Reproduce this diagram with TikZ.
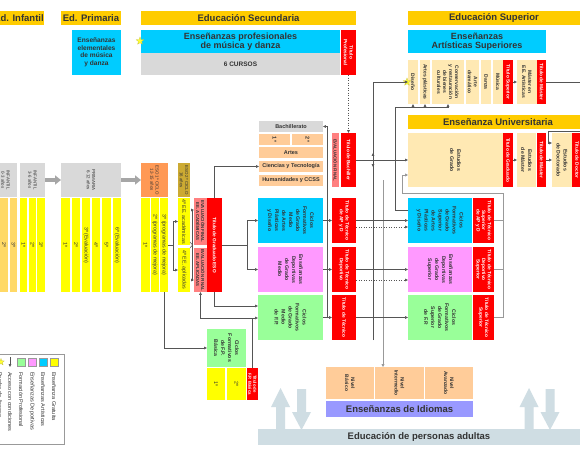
\documentclass[tikz,border=0pt]{standalone}
\usepackage{fontspec}
\setmainfont{Liberation Sans}
\usetikzlibrary{arrows.meta,shapes.geometric}
\definecolor{gold}{HTML}{FFCC00}
\definecolor{cyanb}{HTML}{00CCFF}
\definecolor{greyb}{HTML}{D9D9D9}
\definecolor{redb}{HTML}{FF0000}
\definecolor{salm}{HTML}{FF8080}
\definecolor{cream}{HTML}{FFE9B3}
\definecolor{peach}{HTML}{FFCC99}
\definecolor{yel}{HTML}{FFFF00}
\definecolor{infc}{HTML}{FFD966}
\definecolor{esoA}{HTML}{FF9955}
\definecolor{esoB}{HTML}{CCAA33}
\definecolor{pinkb}{HTML}{FF99FF}
\definecolor{greenb}{HTML}{99FF99}
\definecolor{idio}{HTML}{9999FF}
\definecolor{adult}{HTML}{CFDDE3}
\definecolor{txt}{HTML}{333333}
\definecolor{lin}{HTML}{555555}
\definecolor{glin}{HTML}{999999}
\definecolor{bigg}{HTML}{A6A6A6}
\definecolor{stary}{HTML}{FFFF33}
\newcommand{\zH}{\fontsize{9.5}{10}\selectfont\bfseries}
\newcommand{\zC}{\fontsize{9}{9.5}\selectfont\bfseries}
\newcommand{\zE}{\fontsize{6.6}{7.6}\selectfont\bfseries}
\newcommand{\zK}{\fontsize{6.5}{7}\selectfont\bfseries}
\newcommand{\zB}{\fontsize{5.5}{6}\selectfont\bfseries}
\newcommand{\zS}{\fontsize{5.2}{7}\selectfont\bfseries}
\newcommand{\zT}{\fontsize{4.8}{5.6}\selectfont\bfseries}
\newcommand{\zV}{\fontsize{4.3}{5}\selectfont\bfseries}
\newcommand{\zY}{\fontsize{5.3}{6}\selectfont}
\newcommand{\zA}{\fontsize{4.4}{5.2}\selectfont}
\newcommand{\zL}{\fontsize{5.5}{6}\selectfont}
\newcommand{\zR}{\fontsize{5}{6}\selectfont\bfseries}
\newcommand{\HB}[8]{\node[bxs,fill=#6,minimum width=#4pt,minimum height=#5pt,align=center,text=txt,#7] (#1) at ({#2+#4/2},{#3+#5/2}) {#8};}
\newcommand{\VB}[8]{\node[bxs,fill=#6,minimum width=#4pt,minimum height=#5pt] (#1) at ({#2+#4/2},{#3+#5/2}) {};\node[vt,#7] (#1-t) at (#1.center) {#8};}
\begin{document}
\begin{tikzpicture}[x=1pt,y=-1pt,
 bxs/.style={rectangle,draw=none,inner sep=0pt,outer sep=0pt},
 vt/.style={rotate=-90,align=center,inner sep=0pt,text=txt},
 ln/.style={draw=lin,line width=0.5pt},
 ar/.style={ln,-{Triangle[length=2.8pt,width=2.6pt]}},
 ard/.style={ar,dotted},
 lng/.style={draw=glin,line width=0.8pt},
 arg/.style={lng,-{Triangle[length=3pt,width=3pt]}},
 bigar/.style={draw=bigg,line width=4pt,-{Triangle[length=6pt,width=9pt]}},
 stary/.style={star,star points=5,star point ratio=2.3,fill=stary,draw=yellow!70!black,line width=0.2pt,minimum size=8pt,inner sep=0pt}]
\useasboundingbox (0,0) rectangle (580,460);
\fill[white] (0,0) rectangle (580,460);
% headers
\HB{hinf}{-6}{11}{50}{14}{gold}{font=\zH}{Ed. Infantil}
\HB{hpri}{61}{11}{60}{14}{gold}{font=\zH}{Ed. Primaria}
\HB{hsec}{141}{11}{215}{14}{gold}{font=\zH}{Educación Secundaria}
\HB{hsup}{408}{11}{172}{14}{gold}{font=\zH}{Educación Superior}
% music and arts
\HB{elem}{72}{30}{49}{45}{cyanb}{font=\zE}{Enseñanzas\\elementales\\de música\\y danza}
\HB{prof}{141}{30}{199}{23}{cyanb}{font=\zC}{Enseñanzas profesionales\\de música y danza}
\HB{cursos}{141}{53}{199}{22}{greyb}{font=\zK}{6 CURSOS}
\VB{tprof}{341}{30}{15}{45}{redb}{font=\zT,text=white}{Título\\Profesional}
\HB{eas}{408}{30}{138}{23}{cyanb}{font=\zC}{Enseñanzas\\Artísticas Superiores}
\VB{dis}{408}{60}{10}{44}{cream}{font=\zR}{Diseño}
\VB{apl}{420}{60}{10}{44}{cream}{font=\zR}{Artes plásticas}
\VB{cons}{432}{60}{32}{44}{cream}{font=\zR}{Conservación\\y restauración\\de bienes\\culturales}
\VB{adr}{466}{60}{13}{44}{cream}{font=\zR}{Arte\\dramático}
\VB{dan}{481}{60}{10}{44}{cream}{font=\zR}{Danza}
\VB{mus}{493}{60}{10}{44}{cream}{font=\zR}{Música}
\VB{tsup}{503}{60}{10}{44}{redb}{font=\zT,text=white}{Título Superior}
\VB{mea}{517}{60}{20}{44}{cream}{font=\zR}{Máster en\\EE. Artísticas}
\VB{tmea}{537}{60}{9}{44}{redb}{font=\zT,text=white}{Título de Máster}
\node[stary] (st1) at (140,41) {};
\node[stary] (st2) at (407,82) {};
% university
\HB{huni}{408}{115}{180}{14}{gold}{font=\zH}{Enseñanza Universitaria}
\VB{grado}{408}{133}{95}{54}{cream}{font=\zS}{Estudios\\de Grado}
\VB{tgrad}{503}{133}{10}{54}{redb}{font=\zT,text=white}{Título de Graduado}
\VB{master}{517}{133}{19}{54}{cream}{font=\zS}{Estudios\\de Máster}
\VB{tmas}{537}{133}{9}{54}{redb}{font=\zT,text=white}{Título de Máster}
\VB{doct}{552}{133}{20}{54}{cream}{font=\zS}{Estudios\\de Doctorado}
\VB{tdoc}{572}{133}{10}{54}{redb}{font=\zT,text=white}{Título de Doctor}
% age boxes
\VB{inf1}{-6}{163}{23}{34}{greyb}{font=\zA}{INFANTIL\\0-3 años}
\VB{inf2}{20}{163}{25}{34}{greyb}{font=\zA}{INFANTIL\\3-6 años}
\VB{pri}{61}{163}{60}{34}{greyb}{font=\zA}{PRIMARIA\\6-12 años}
\VB{eso1}{141}{163}{27}{34}{esoA}{font=\zA}{ESO 1º CICLO\\12-15 años}
\VB{eso2}{178}{163}{12}{34}{esoB}{font=\zA}{ESO 2º CICLO\\16 años}
\draw[bigar] (inf2.east) -- (pri.west);
\draw[bigar] (pri.east) -- (eso1.west);
% year columns
\VB{i1a}{0}{198}{8}{94}{infc}{font=\zY}{2º}
\VB{i1b}{10}{198}{7}{94}{infc}{font=\zY}{3º}
\VB{i2a}{20}{198}{7}{94}{yel}{font=\zY}{1º}
\VB{i2b}{29}{198}{7}{94}{yel}{font=\zY}{2º}
\VB{i2c}{37}{198}{8}{94}{yel}{font=\zY}{3º}
\VB{p1}{61}{198}{9}{94}{yel}{font=\zY}{1º}
\VB{p2}{72}{198}{8}{94}{yel}{font=\zY}{2º}
\VB{p3}{82}{198}{8}{94}{yel}{font=\zY}{3º (Evaluación)}
\VB{p4}{92}{198}{8}{94}{yel}{font=\zY}{4º}
\VB{p5}{102}{198}{9}{94}{yel}{font=\zY}{5º}
\VB{p6}{113}{198}{8}{94}{yel}{font=\zY}{6º (Evaluación)}
\VB{e1}{141}{198}{9}{94}{yel}{font=\zY}{1º}
\VB{e2}{151}{198}{8}{94}{yel}{font=\zY}{2º (programas de mejora)}
\VB{e3}{160}{198}{8}{94}{yel}{font=\zY}{3º (programas de mejora)}
\VB{acad}{178}{198}{12}{47}{yel}{font=\zY}{4º EE. académicas}
\VB{aplc}{178}{248}{12}{44}{yel}{font=\zY}{4º EE. aplicadas}
\VB{evac}{194}{198}{13}{47}{salm}{font=\zV}{EVALUACIÓN FINAL\\EE. ACADÉMICAS}
\VB{evap}{194}{248}{13}{44}{salm}{font=\zV}{EVALUACIÓN FINAL\\EE. APLICADAS}
\VB{tgeso}{207}{198}{15}{94}{redb}{font=\zT,text=white}{Título de Graduado ESO}
% bachillerato
\HB{bach}{259}{121}{64}{11}{greyb}{font=\zB}{Bachillerato}
\VB{b1}{259}{134}{31}{11}{peach}{font=\zB}{1º}
\VB{b2}{292}{134}{31}{11}{peach}{font=\zB}{2º}
\HB{bart}{259}{147}{64}{11}{peach}{font=\zB}{Artes}
\HB{bcyt}{259}{161}{64}{11}{peach}{font=\zB}{Ciencias y Tecnología}
\HB{bhum}{259}{175}{64}{11}{peach}{font=\zB}{Humanidades y CCSS}
\VB{evf}{332}{133}{7}{54}{salm}{font=\zV}{EVALUACIÓN FINAL}
\VB{tbach}{341}{133}{15}{54}{redb}{font=\zT,text=white}{Título de Bachiller}
% grado medio
\VB{cfgmap}{258}{198}{65}{45}{cyanb}{font=\zS}{Ciclos\\Formativos\\de Grado\\Medio\\de Artes\\Plásticas\\y Diseño}
\VB{edgm}{258}{247}{65}{45}{pinkb}{font=\zS}{Enseñanzas\\Deportivas\\de Grado\\Medio}
\VB{cfgmfp}{258}{295}{65}{45}{greenb}{font=\zS}{Ciclos\\Formativos\\de Grado\\Medio\\de F.P.}
\VB{ttap}{332}{198}{24}{45}{redb}{font=\zT,text=white}{Título de Técnico\\de AP y D}
\VB{ttdep}{332}{247}{24}{45}{redb}{font=\zT,text=white}{Título de Técnico\\Deportivo}
\VB{ttec}{332}{295}{24}{45}{redb}{font=\zT,text=white}{Título de Técnico}
% FP basica
\VB{fpb}{207}{329}{39}{38}{greenb}{font=\zS}{Ciclos\\Formativos\\de F.P.\\Básica}
\VB{fpb1}{207}{368}{18}{32}{yel}{font=\zY}{1º}
\VB{fpb2}{227}{368}{19}{32}{yel}{font=\zY}{2º}
\VB{tfpb}{247}{368}{11}{32}{redb}{font=\zV,text=white}{Título de\\F.P. Básica}
% grado superior
\VB{cfgsap}{408}{198}{64}{45}{cyanb}{font=\zS}{Ciclos\\Formativos\\de Grado\\Superior\\de Artes\\Plásticas\\y Diseño}
\VB{edgs}{408}{247}{64}{45}{pinkb}{font=\zS}{Enseñanzas\\Deportivas\\de Grado\\Superior}
\VB{cfgsfp}{408}{295}{64}{45}{greenb}{font=\zS}{Ciclos\\Formativos\\de Grado\\Superior\\de F.P.}
\VB{ttsap}{473}{198}{21}{45}{redb}{font=\zT,text=white}{Título de Técnico\\Superior\\de AP y D}
\VB{ttdsup}{473}{247}{21}{45}{redb}{font=\zT,text=white}{Título de Técnico\\Deportivo\\Superior}
\VB{ttsup}{473}{295}{21}{45}{redb}{font=\zT,text=white}{Título de Técnico\\Superior}
% idiomas & adults
\VB{nb}{326}{367}{48}{32}{peach}{font=\zR}{Nivel\\Básico}
\VB{ni}{375}{367}{49}{32}{peach}{font=\zR}{Nivel\\Intermedio}
\VB{na}{425}{367}{48}{32}{peach}{font=\zR}{Nivel\\Avanzado}
\HB{idi}{326}{401}{147}{16}{idio}{font=\zH}{Enseñanzas de Idiomas}
\HB{adu}{258}{429}{322}{16}{adult}{font=\zH}{Educación de personas adultas}
\fill[adult] (276,430) -- (276,407) -- (271,407) -- (280.5,388) -- (290,407) -- (285,407) -- (285,430) -- cycle;
\fill[adult] (297,389) -- (306,389) -- (306,412) -- (311,412) -- (301.5,430) -- (292,412) -- (297,412) -- cycle;
\fill[adult] (524.5,430) -- (524.5,407) -- (519.5,407) -- (529,388) -- (538.5,407) -- (533.5,407) -- (533.5,430) -- cycle;
\fill[adult] (545.5,389) -- (554.5,389) -- (554.5,412) -- (559.5,412) -- (550,430) -- (540.5,412) -- (545.5,412) -- cycle;
% connectors ESO
\coordinate (j1) at (173,245);
\draw[ln] (e3.east) -- (j1);
\draw[ar] (j1) |- (acad.west);
\draw[ar] (j1) |- (aplc.west);
\coordinate (k0) at (192.5,245);
\coordinate (k1) at (190,242);
\coordinate (k2) at (190,248);
\coordinate (k3) at (192.5,210);
\coordinate (k4) at (192.5,280);
\draw[ln] (k1) -- (k0) -- (k2);
\draw[ln] (k0) -- (k3);
\draw[ln] (k0) -- (k4);
\draw[ar] (k3) -- (evac.west |- k3);
\draw[ar] (k4) -- (evap.west |- k4);
\coordinate (j3) at (247,245);
\draw[ln] (tgeso.east) -- (j3);
\draw[ar] (j3) |- (cfgmap.west);
\draw[ar] (j3) |- (edgm.west);
\draw[ar] (tgeso.north) |- (bcyt.west);
\coordinate (j4) at (214.5,306);
\draw[ar] (tgeso.south) -- (j4) -- (cfgmfp.west |- j4);
\coordinate (j5) at (252.5,318);
\draw[ar] (tfpb.north) -- (j5) -- (cfgmfp.west |- j5);
\draw[ar] (j5) -| (evap.south);
\draw[ar] (e3.south) |- (fpb.west);
% bachillerato access
\coordinate (j7) at (327.5,318);
\draw[ar] (j7) |- (bach.east);
\draw[ar] (cfgmap.east) -- (ttap.west);
\draw[ar] (edgm.east) -- (ttdep.west);
\draw[ar] (cfgmfp.east) -- (ttec.west);
\draw[ard] (tprof.south) -- (tbach.north);
\draw[ar] (tbach.east) -- (grado.west);
% vertical lines
\coordinate (v1t) at (373,82);
\coordinate (v1b) at (373,340);
\draw[ar] (v1b) -- (v1t) -- (dis.west);
\coordinate (v1m) at (373,160);
\draw[ar] (v1m) -- ++(0,-7);
\draw[ar] (v1m) -- ++(0,7);
\coordinate (v2t) at (383,180);
\draw[arg] (v2t) -- (v2t |- ni.north);
\coordinate (v3t) at (395,107);
\coordinate (v3b) at (395,210);
\draw[ln] (cfgsap.west |- v3b) -- (v3b) -- (v3t) -- (cons.south |- v3t);
\draw[ar] (dis.south |- v3t) -- (dis.south);
\draw[ar] (apl.south |- v3t) -- (apl.south);
\draw[ar] (cons.south |- v3t) -- (cons.south);
% tecnico -> superior
\draw[ar] (ttap.east) -- (cfgsap.west);
\coordinate (d1) at (356,227);
\draw[ard] (d1) -- (cfgsap.west |- d1);
\draw[ar] (ttdep.east) -- (edgs.west);
\coordinate (d2) at (356,280);
\draw[ard] (d2) -- (edgs.west |- d2);
\draw[ar] (ttec.east) -- (cfgsfp.west);
% TS bracket to grado
\coordinate (br1) at (503,193);
\coordinate (br2) at (503,317.5);
\coordinate (br3) at (402,193);
\coordinate (br4) at (402,175);
\draw[arg] (ttsup.east) -- (br2) -- (br1) -- (br3) -- (br4) -- (grado.west |- br4);
\draw[lng] (ttsap.east) -- (ttsap.east -| br1);
\draw[lng] (ttdsup.east) -- (ttdsup.east -| br1);
% university
\draw[ar] (tgrad.east) -- (master.west);
\draw[ar] (tmas.east) -- (doct.west);
\draw[ar] (tsup.east) -- (mea.west);
\coordinate (r1) at (585,82);
\draw[ln] (tmea.east) -- (r1);
\coordinate (r2) at (585,131);
\coordinate (r3) at (548,131);
\coordinate (r4) at (548,143);
\draw[ar] (r2) -- (r3) -- (r4) -- (doct.west |- r4);
% legend
\node[bxs,draw=glin,fill=white,line width=0.6pt,minimum width=70pt,minimum height=90pt] (leg) at (29,399) {};
\node[bxs,fill=yel,draw=glin,line width=0.4pt,minimum size=8pt] (lq1) at (54,362) {};
\node[bxs,fill=cyanb,draw=glin,line width=0.4pt,minimum size=8pt] (lq2) at (43,362) {};
\node[bxs,fill=pinkb,draw=glin,line width=0.4pt,minimum size=8pt] (lq3) at (32,362) {};
\node[bxs,fill=greenb,draw=glin,line width=0.4pt,minimum size=8pt] (lq4) at (21,362) {};
\coordinate (la1) at (10,357);
\coordinate (la2) at (10,367);
\draw[ar] (la1) -- (la2);
\node[stary,minimum size=7pt] (lst) at (1,362) {};
\node[vt,anchor=west,font=\zL] (lt1) at (54,372) {Enseñanza Gratuita};
\node[vt,anchor=west,font=\zL] (lt2) at (43,372) {Enseñanzas Artísticas};
\node[vt,anchor=west,font=\zL] (lt3) at (32,372) {Enseñanzas Deportivas};
\node[vt,anchor=west,font=\zL] (lt4) at (21,372) {Formación Profesional};
\node[vt,anchor=west,font=\zL] (lt5) at (10,372) {Acceso con condiciones};
\node[vt,anchor=west,font=\zL] (lt6) at (0,372) {Prueba de Acceso};
\end{tikzpicture}
\end{document}
